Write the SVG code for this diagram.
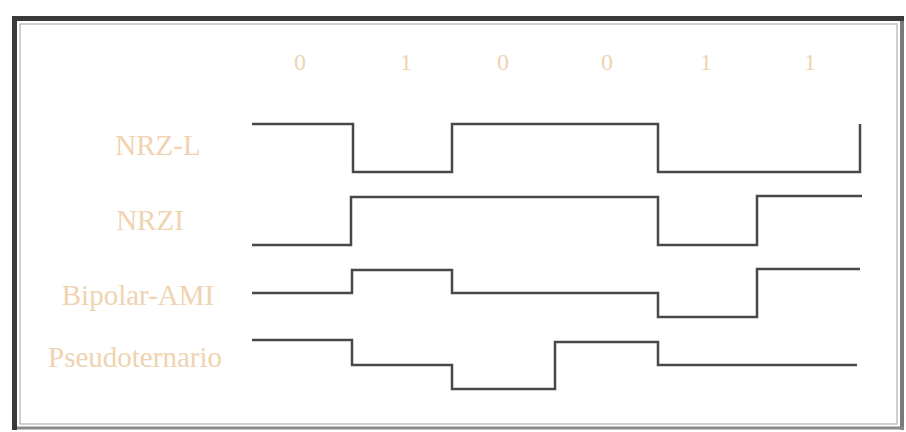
<svg xmlns="http://www.w3.org/2000/svg" width="906" height="432" viewBox="0 0 906 432">
  <style>
    .wave { fill: none; stroke: #484848; stroke-width: 2.5; stroke-linejoin: miter; }
    .lbl { font-family: "Liberation Serif", "Times New Roman", serif; font-size: 29px; fill: #f0d3b0; text-anchor: middle; }
    .bit { font-family: "Liberation Serif", "Times New Roman", serif; font-size: 24px; fill: #f0d3b0; text-anchor: middle; }
  </style>
  <rect width="906" height="432" fill="#ffffff"/>
  <g id="frame">
    <line x1="902" y1="16" x2="902" y2="430" stroke="#7a7a7a" stroke-width="4"/>
    <line x1="12" y1="428" x2="904" y2="428" stroke="#8a8a8a" stroke-width="3"/>
    <line x1="12" y1="18.5" x2="904" y2="18.5" stroke="#3a3a3a" stroke-width="5"/>
    <line x1="14.5" y1="16" x2="14.5" y2="430" stroke="#3a3a3a" stroke-width="5"/>
    <rect x="20" y="24" width="877" height="400" fill="none" stroke="#a0a0a0" stroke-width="1"/>
  </g>
  <g id="bits">
    <text class="bit" x="300" y="70">0</text>
    <text class="bit" x="406" y="70">1</text>
    <text class="bit" x="503" y="70">0</text>
    <text class="bit" x="607" y="70">0</text>
    <text class="bit" x="706" y="70">1</text>
    <text class="bit" x="810" y="70">1</text>
  </g>
  <g id="nrz-l">
    <text class="lbl" x="158" y="155">NRZ-L</text>
    <path class="wave" d="M252,124 H353 V172 H452 V124 H658 V172 H860 V124"/>
  </g>
  <g id="nrzi">
    <text class="lbl" x="150" y="230">NRZI</text>
    <path class="wave" d="M252,245 H351 V197 H658 V245 H757 V196 H862"/>
  </g>
  <g id="bipolar-ami">
    <text class="lbl" x="138" y="305">Bipolar-AMI</text>
    <path class="wave" d="M252,293 H352 V270 H452 V293 H658 V317 H757 V269 H860"/>
  </g>
  <g id="pseudoternario">
    <text class="lbl" x="135" y="367">Pseudoternario</text>
    <path class="wave" d="M252,340 H352 V365 H452 V389 H555 V342 H658 V365 H857"/>
  </g>
</svg>
